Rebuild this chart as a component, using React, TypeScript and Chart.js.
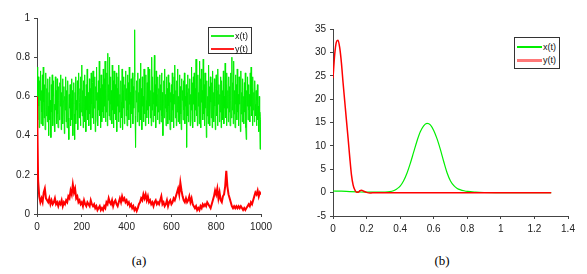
import React, { useEffect, useRef } from "react";
import { Chart, registerables } from "chart.js";
Chart.register(...registerables);

// ---------- (a) time series ----------
const xTimeStep = 2; // x(t) sampled every 2 time units
const xSeries = [
  0.62,0.75,0.48,0.70,0.55, 0.44,0.68,0.58,0.73,0.46, 0.63,0.52,0.71,0.45,0.75, 0.57,0.49,0.66,0.43,0.61, 0.72,0.50,0.64,0.47,0.69,
  0.55,0.40,0.62,0.70,0.48, 0.58,0.39,0.66,0.52,0.71, 0.45,0.60,0.68,0.47,0.56, 0.42,0.70,0.53,0.63,0.46, 0.69,0.51,0.44,0.65,0.58,
  0.48,0.67,0.55,0.71,0.43, 0.62,0.50,0.69,0.46,0.58, 0.65,0.41,0.60,0.53,0.70, 0.47,0.63,0.44,0.57,0.68, 0.49,0.38,0.61,0.54,0.66,
  0.45,0.59,0.69,0.48,0.63, 0.40,0.56,0.67,0.51,0.38, 0.62,0.70,0.46,0.58,0.53, 0.68,0.43,0.61,0.72,0.49, 0.57,0.64,0.45,0.70,0.52,
  0.76,0.50,0.63,0.44,0.68, 0.55,0.71,0.47,0.60,0.42, 0.66,0.53,0.74,0.48,0.62, 0.57,0.45,0.69,0.51,0.64, 0.43,0.72,0.56,0.49,0.67,
  0.73,0.46,0.61,0.54,0.70, 0.42,0.65,0.58,0.75,0.48, 0.62,0.45,0.68,0.53,0.78, 0.50,0.64,0.44,0.71,0.57, 0.47,0.66,0.52,0.74,0.49,
  0.69,0.55,0.78,0.47,0.64, 0.52,0.72,0.45,0.82,0.58, 0.66,0.50,0.80,0.48,0.70, 0.56,0.63,0.46,0.76,0.53, 0.68,0.44,0.73,0.59,0.51,
  0.66,0.48,0.72,0.42,0.64, 0.55,0.70,0.47,0.76,0.52, 0.61,0.44,0.68,0.57,0.49, 0.74,0.43,0.63,0.54,0.70, 0.46,0.66,0.58,0.73,0.50,
  0.64,0.45,0.71,0.53,0.67, 0.48,0.75,0.56,0.62,0.44, 0.69,0.51,0.58,0.72,0.46, 0.65,0.54,0.70,0.94,0.50, 0.34,0.63,0.57,0.68,0.47,
  0.72,0.52,0.62,0.45,0.69, 0.56,0.77,0.48,0.64,0.43, 0.70,0.55,0.60,0.47,0.74, 0.51,0.66,0.45,0.71,0.58, 0.49,0.67,0.53,0.75,0.46,
  0.68,0.55,0.74,0.49,0.63, 0.45,0.80,0.53,0.70,0.47, 0.62,0.56,0.81,0.50,0.66, 0.44,0.73,0.55,0.61,0.48, 0.70,0.52,0.64,0.46,0.71,
  0.53,0.66,0.47,0.72,0.50, 0.62,0.40,0.58,0.68,0.49, 0.74,0.54,0.61,0.45,0.70, 0.52,0.64,0.46,0.71,0.55, 0.48,0.67,0.43,0.62,0.57,
  0.66,0.47,0.72,0.53,0.61, 0.44,0.70,0.56,0.76,0.49, 0.63,0.45,0.68,0.52,0.74, 0.47,0.60,0.55,0.71,0.46, 0.65,0.51,0.43,0.69,0.58,
  0.63,0.48,0.68,0.53,0.72, 0.46,0.60,0.55,0.66,0.34, 0.62,0.50,0.71,0.47,0.64, 0.56,0.69,0.45,0.61,0.53, 0.75,0.48,0.67,0.44,0.70,
  0.56,0.72,0.47,0.64,0.53, 0.79,0.50,0.66,0.45,0.71, 0.55,0.62,0.46,0.78,0.52, 0.69,0.44,0.74,0.57,0.63, 0.48,0.79,0.51,0.66,0.45,
  0.72,0.54,0.63,0.39,0.68, 0.50,0.60,0.46,0.76,0.53, 0.65,0.45,0.70,0.57,0.49, 0.67,0.44,0.73,0.52,0.62, 0.47,0.69,0.55,0.43,0.64,
  0.71,0.50,0.63,0.45,0.74, 0.56,0.66,0.47,0.61,0.52, 0.70,0.44,0.68,0.55,0.63, 0.48,0.73,0.46,0.60,0.54, 0.77,0.49,0.66,0.45,0.72,
  0.54,0.63,0.47,0.70,0.52, 0.65,0.45,0.72,0.58,0.49, 0.80,0.53,0.67,0.46,0.78, 0.51,0.63,0.44,0.71,0.56, 0.66,0.48,0.74,0.52,0.61,
  0.45,0.70,0.56,0.64,0.42, 0.73,0.51,0.62,0.47,0.69, 0.54,0.60,0.46,0.67,0.52, 0.72,0.44,0.38,0.63,0.55, 0.70,0.48,0.66,0.53,0.61,
  0.47,0.72,0.55,0.75,0.50, 0.64,0.45,0.70,0.53,0.62, 0.47,0.68,0.56,0.50,0.63, 0.45,0.58,0.66,0.48,0.55, 0.42,0.60,0.50,0.33,0.48,
  0.52,
];

const yTimeStep = 5; // y(t) sampled every 5 time units
const ySeries = [
  0.60,0.17,0.09,0.06,0.08,0.06,0.11,0.13,0.08,0.07,
  0.06,0.08,0.05,0.07,0.05,0.06,0.08,0.05,0.06,0.04,
  0.06,0.05,0.07,0.04,0.06,0.05,0.07,0.06,0.09,0.08,
  0.12,0.10,0.15,0.11,0.13,0.08,0.09,0.06,0.07,0.05,
  0.06,0.04,0.07,0.05,0.04,0.06,0.05,0.04,0.07,0.05,
  0.04,0.05,0.03,0.04,0.02,0.03,0.04,0.02,0.03,0.02,
  0.04,0.03,0.06,0.05,0.08,0.06,0.05,0.07,0.04,0.06,
  0.07,0.05,0.04,0.06,0.08,0.06,0.09,0.07,0.08,0.06,
  0.07,0.05,0.06,0.04,0.05,0.03,0.04,0.02,0.03,0.015,
  0.03,0.05,0.06,0.08,0.07,0.10,0.08,0.10,0.07,0.09,
  0.06,0.07,0.05,0.06,0.04,0.06,0.07,0.05,0.06,0.05,
  0.07,0.09,0.05,0.06,0.04,0.05,0.07,0.04,0.06,0.07,
  0.05,0.06,0.08,0.07,0.09,0.11,0.13,0.10,0.16,0.12,
  0.09,0.07,0.06,0.08,0.06,0.07,0.09,0.06,0.08,0.05,
  0.04,0.03,0.04,0.02,0.03,0.02,0.04,0.03,0.05,0.04,
  0.05,0.04,0.06,0.05,0.04,0.03,0.05,0.07,0.09,0.12,
  0.10,0.13,0.08,0.11,0.07,0.06,0.09,0.10,0.14,0.22,
  0.14,0.10,0.08,0.06,0.04,0.03,0.04,0.03,0.04,0.03,
  0.04,0.03,0.04,0.03,0.02,0.03,0.02,0.03,0.04,0.05,
  0.04,0.06,0.05,0.07,0.09,0.11,0.10,0.12,0.09,0.11,
  0.10,
];

// ---------- (b) densities ----------
const densXGrid = [
  0, 0.05, 0.1, 0.15, 0.2, 0.25, 0.3, 0.34, 0.36, 0.38, 0.4, 0.42, 0.44, 0.46, 0.48,
  0.5, 0.52, 0.54, 0.56, 0.58, 0.6, 0.62, 0.64, 0.66, 0.68, 0.7, 0.72, 0.74, 0.76,
  0.78, 0.8, 0.85, 0.9, 1.0, 1.1, 1.2, 1.3,
];
const densXValues = [
  0.35, 0.3, 0.22, 0.15, 0.1, 0.1, 0.12, 0.2, 0.4, 0.8, 1.4, 2.5, 4.1, 6.2, 8.6,
  11.0, 13.0, 14.3, 14.8, 14.5, 13.3, 11.5, 9.2, 6.6, 4.2, 2.5, 1.5, 0.9, 0.6,
  0.4, 0.25, 0.1, 0.03, 0, 0, 0, 0,
];
const densYGrid = [
  0, 0.01, 0.02, 0.03, 0.04, 0.05, 0.06, 0.07, 0.08, 0.09, 0.1, 0.11, 0.12, 0.13,
  0.14, 0.15, 0.16, 0.17, 0.18, 0.2, 0.22, 0.25, 0.3, 0.5, 0.8, 1.0, 1.3,
];
const densYValues = [
  24.5, 29.5, 32.2, 32.6, 31.0, 27.8, 23.5, 19.5, 15.5, 11.6, 7.5, 3.8, 1.6, 0.6,
  0.1, 0.1, 0.4, 0.5, 0.35, 0.05, -0.1, 0, 0, 0, 0, 0, 0,
];

const leftYTicks = { min: 0, max: 1, step: 0.2 };
const leftXTicks = { min: 0, max: 1000, step: 200 };
const rightYTicks = { min: -5, max: 35, step: 5 };
const rightXTicks = { min: 0, max: 1.4, step: 0.2 };

const GREEN = "#00ee00";
const RED = "#ff0000";
const AXIS = "#444444";
const TICK_FONT = { family: "'Liberation Sans', Arial, sans-serif", size: 10 };

function axis(range: { min: number; max: number; step: number }, fit: (s: any) => void) {
  return {
    type: "linear" as const,
    min: range.min,
    max: range.max,
    grid: {
      display: true,
      drawOnChartArea: false,
      drawTicks: true,
      tickLength: 3,
      color: AXIS,
    },
    border: { display: true, color: AXIS, width: 1 },
    ticks: {
      stepSize: range.step,
      color: "#222",
      font: TICK_FONT,
      padding: 4,
      maxRotation: 0,
      autoSkip: false,
      callback: (v: any) => String(+Number(v).toFixed(2)),
    },
    afterFit: fit,
  };
}

function ChartCanvas(props: {
  width: number;
  height: number;
  left: number;
  datasets: any[];
  xr: any;
  yr: any;
  yw: number;
  xh: number;
  pad: any;
}) {
  const ref = useRef<HTMLCanvasElement | null>(null);
  useEffect(() => {
    const c = ref.current;
    if (!c) return;
    const chart = new Chart(c, {
      type: "line",
      data: { datasets: props.datasets },
      options: {
        animation: false,
        responsive: false,
        devicePixelRatio: 1,
        layout: { padding: props.pad },
        plugins: { legend: { display: false }, tooltip: { enabled: false } },
        scales: {
          x: axis(props.xr, (s: any) => { s.height = props.xh; }),
          y: axis(props.yr, (s: any) => { s.width = props.yw; }),
        },
      },
    });
    return () => chart.destroy();
  }, []);
  return (
    <canvas
      ref={ref}
      width={props.width}
      height={props.height}
      style={{ position: "absolute", left: props.left, top: 0, width: props.width, height: props.height }}
    />
  );
}

function Legend(props: { left: number; top: number; width: number; height: number; rows: { label: string; color: string; lw: number; y: number }[]; lineX: number; lineW: number }) {
  return (
    <div
      style={{
        position: "absolute",
        left: props.left,
        top: props.top,
        width: props.width,
        height: props.height,
        border: "1px solid #333",
        background: "#fff",
        boxSizing: "border-box",
      }}
    >
      {props.rows.map((r) => (
        <React.Fragment key={r.label}>
          <div
            style={{
              position: "absolute",
              left: props.lineX,
              top: r.y,
              width: props.lineW,
              height: r.lw,
              background: r.color,
            }}
          />
          <div
            style={{
              position: "absolute",
              left: props.lineX + props.lineW + 1,
              top: r.y - 5,
              fontFamily: "'Liberation Sans', Arial, sans-serif",
              fontSize: 9,
              lineHeight: "12px",
              color: "#111",
              whiteSpace: "nowrap",
            }}
          >
            {r.label}
          </div>
        </React.Fragment>
      ))}
    </div>
  );
}

export default function App() {
  const xPts = xSeries.map((v, i) => ({ x: i * xTimeStep, y: v }));
  const yPts = ySeries.map((v, i) => ({ x: i * yTimeStep, y: v }));
  const dX = densXGrid.map((g, i) => ({ x: g, y: densXValues[i] }));
  const dY = densYGrid.map((g, i) => ({ x: g, y: densYValues[i] }));

  const leftSets = [
    { label: "x(t)", data: xPts, borderColor: GREEN, borderWidth: 1, pointRadius: 0, tension: 0, order: 2 },
    { label: "y(t)", data: yPts, borderColor: RED, borderWidth: 2, pointRadius: 0, tension: 0, order: 1 },
  ];
  const rightSets = [
    { label: "x(t)", data: dX, borderColor: GREEN, borderWidth: 1.2, pointRadius: 0, cubicInterpolationMode: "monotone", order: 2 },
    { label: "y(t)", data: dY, borderColor: RED, borderWidth: 1.5, pointRadius: 0, cubicInterpolationMode: "monotone", order: 1 },
  ];

  const captionStyle: React.CSSProperties = {
    position: "absolute",
    top: 253,
    fontFamily: "'Liberation Serif', 'Times New Roman', serif",
    fontSize: 13,
    lineHeight: "16px",
    color: "#000",
    transform: "translateX(-50%)",
  };

  return (
    <div style={{ position: "absolute", left: 0, top: 0, width: 587, height: 274, background: "#fff", overflow: "hidden" }}>
      <ChartCanvas
        width={290}
        height={245}
        left={0}
        datasets={leftSets}
        xr={leftXTicks}
        yr={leftYTicks}
        yw={37}
        xh={31}
        pad={{ left: 0, right: 29, top: 18, bottom: 0 }}
      />
      <ChartCanvas
        width={297}
        height={245}
        left={290}
        datasets={rightSets}
        xr={rightXTicks}
        yr={rightYTicks}
        yw={43}
        xh={29}
        pad={{ left: 0, right: 19, top: 29, bottom: 0 }}
      />
      <Legend
        left={208}
        top={27}
        width={44}
        height={27}
        lineX={2}
        lineW={23}
        rows={[
          { label: "x(t)", color: "#22ee22", lw: 2, y: 7 },
          { label: "y(t)", color: "#ff2020", lw: 2, y: 20 },
        ]}
      />
      <Legend
        left={514}
        top={37}
        width={46}
        height={32}
        lineX={2}
        lineW={25}
        rows={[
          { label: "x(t)", color: GREEN, lw: 2, y: 8 },
          { label: "y(t)", color: "#ff7878", lw: 3, y: 21 },
        ]}
      />
      <div style={{ ...captionStyle, left: 139 }}>(a)</div>
      <div style={{ ...captionStyle, left: 442 }}>(b)</div>
    </div>
  );
}
